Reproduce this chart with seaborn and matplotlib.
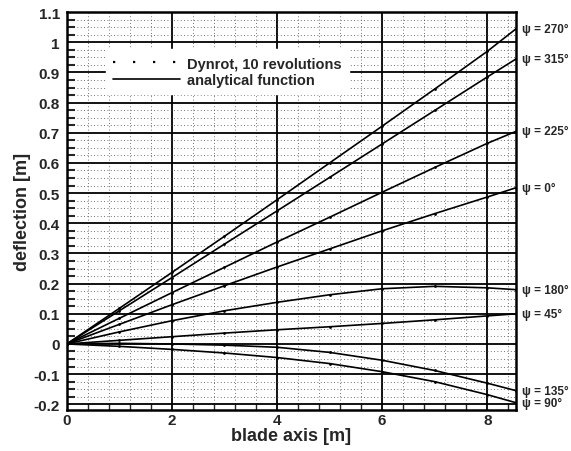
import numpy as np
import pandas as pd
import matplotlib
matplotlib.use("Agg")
import matplotlib.pyplot as plt
from matplotlib.ticker import MultipleLocator
from matplotlib.lines import Line2D
import seaborn as sns

# ---- data ----
blade_x = [0, 1, 2, 3, 4, 5, 6, 7, 8, 8.55]
psi_labels = ["ψ = 270°", "ψ = 315°", "ψ = 225°", "ψ = 0°",
              "ψ = 180°", "ψ = 45°", "ψ = 135°", "ψ = 90°"]
psi_270 = [0, 0.118, 0.237, 0.357, 0.478, 0.600, 0.722, 0.845, 0.970, 1.045]
psi_315 = [0, 0.110, 0.220, 0.331, 0.441, 0.552, 0.663, 0.774, 0.885, 0.945]
psi_225 = [0, 0.085, 0.170, 0.254, 0.338, 0.420, 0.503, 0.585, 0.665, 0.705]
psi_0   = [0, 0.065, 0.130, 0.193, 0.255, 0.315, 0.375, 0.432, 0.487, 0.518]
psi_180 = [0, 0.040, 0.077, 0.110, 0.138, 0.163, 0.183, 0.191, 0.186, 0.180]
psi_45  = [0, 0.012, 0.024, 0.036, 0.047, 0.057, 0.068, 0.080, 0.093, 0.100]
psi_135 = [0, 0.002, 0.000, -0.004, -0.011, -0.028, -0.054, -0.088, -0.130, -0.155]
psi_90  = [0, -0.008, -0.018, -0.030, -0.045, -0.065, -0.092, -0.125, -0.168, -0.195]
series = [psi_270, psi_315, psi_225, psi_0, psi_180, psi_45, psi_135, psi_90]

legend_labels = ["Dynrot, 10 revolutions", "analytical function"]
x_ticks = [0, 2, 4, 6, 8]
y_ticks = [-0.2, -0.1, 0, 0.1, 0.2, 0.3, 0.4, 0.5, 0.6, 0.7, 0.8, 0.9, 1, 1.1]

rows = []
for lab, vals in zip(psi_labels, series):
    for xv, yv in zip(blade_x, vals):
        rows.append({"x": xv, "y": yv, "psi": lab})
df = pd.DataFrame(rows)

sns.set_theme(style="white")
plt.rcParams["font.family"] = ["Liberation Sans", "DejaVu Sans"]
plt.rcParams["font.weight"] = "bold"

fig = plt.figure(figsize=(5.71, 4.52), dpi=100)
ax = fig.add_axes([0.117, 0.09, 0.787, 0.881])

ax.set_xlim(0, 8.55)
ax.set_ylim(-0.22, 1.1)

# grid
ax.xaxis.set_major_locator(MultipleLocator(2))
ax.xaxis.set_minor_locator(MultipleLocator(0.4))
ax.yaxis.set_major_locator(MultipleLocator(0.1))
ax.yaxis.set_minor_locator(MultipleLocator(0.025))
ax.grid(which="major", color="black", linewidth=1.3, linestyle="-")
ax.grid(which="minor", color="#444444", linewidth=0.6, linestyle=(0, (1, 3)))
ax.set_axisbelow(True)

sns.lineplot(data=df, x="x", y="y", units="psi", estimator=None,
             color="black", linewidth=1.2, ax=ax, legend=False)
sns.scatterplot(data=df, x="x", y="y", color="black", s=4,
                linewidth=0, ax=ax, legend=False)

ax.set_xticks(x_ticks)
ax.set_xticklabels([f"{t:g}" for t in x_ticks])
ax.set_yticks(y_ticks)
ax.set_yticklabels([f"{t:g}" for t in y_ticks])
ax.tick_params(axis="x", which="major", labelsize=11, direction="in",
               length=0, pad=2)
ax.tick_params(axis="y", which="major", labelsize=11, direction="in",
               length=0, pad=5)
ax.tick_params(axis="y", which="minor", direction="in", length=6, width=1.5,
               left=True)
ax.tick_params(axis="x", which="minor", direction="in", length=4, width=1.0,
               bottom=True)
for lab in ax.get_xticklabels() + ax.get_yticklabels():
    lab.set_fontweight("bold")

for sp in ax.spines.values():
    sp.set_color("black")
    sp.set_linewidth(1.8)

ax.set_xlabel("blade axis [m]", fontsize=13, fontweight="bold", labelpad=0)
ax.set_ylabel("deflection [m]", fontsize=13, fontweight="bold", labelpad=2)

# right-side labels
for lab, vals in zip(psi_labels, series):
    ax.annotate(lab, xy=(1.0, vals[-1]), xycoords=("axes fraction", "data"),
                xytext=(4, 0), textcoords="offset points",
                fontsize=8.5, fontweight="bold", va="center", ha="left",
                annotation_clip=False)

handles = [Line2D([], [], color="black", linestyle=(0, (1, 8)), linewidth=1.6),
           Line2D([], [], color="black", linestyle="-", linewidth=1.2)]
leg = ax.legend(handles, legend_labels, loc="upper left",
                bbox_to_anchor=(0.07, 0.925), frameon=True, fancybox=False,
                facecolor="white", edgecolor="white", framealpha=1,
                handlelength=4.6, handletextpad=0.5, labelspacing=0.15,
                borderpad=0.5, prop={"size": 10.5, "weight": "bold"})

fig.savefig("out.png", dpi=100)
